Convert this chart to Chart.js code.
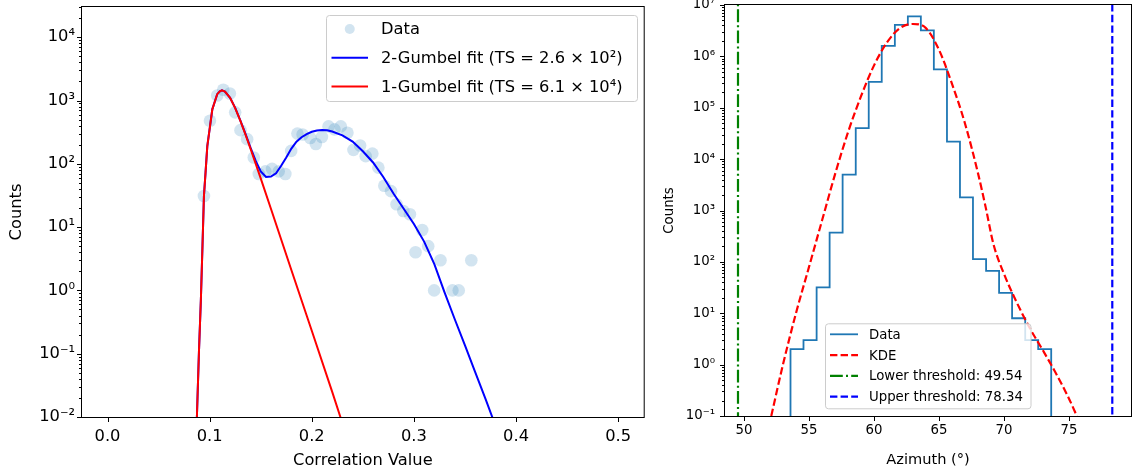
<!DOCTYPE html>
<html>
<head>
<meta charset="utf-8">
<script src="https://cdn.jsdelivr.net/npm/chart.js@4.4.1/dist/chart.umd.min.js"></script>
<style>
  html, body { margin: 0; padding: 0; background: #fff; overflow: hidden; }
  #left { position: absolute; left: 0; top: 0; }
  #right { position: absolute; left: 650px; top: 0; }
</style>
</head>
<body>
<canvas id="left" width="650" height="475"></canvas>
<canvas id="right" width="482" height="475"></canvas>
<script>
// Left panel: correlation value histogram (scatter) with Gumbel fits
const corrX = [0.0944, 0.1003, 0.1074, 0.1133, 0.1198, 0.1250, 0.1302, 0.1367, 0.1432, 0.1481,
  0.1546, 0.1611, 0.1676, 0.1741, 0.1798, 0.1859, 0.1910, 0.1985, 0.2040, 0.2099,
  0.2164, 0.2222, 0.2284, 0.2349, 0.2408, 0.2473, 0.2528, 0.2593, 0.2652, 0.2710,
  0.2776, 0.2830, 0.2896, 0.2961, 0.3016, 0.3081, 0.3140, 0.3198, 0.3260, 0.3377,
  0.3439, 0.3562];
const corrCounts = [31, 480, 1200, 1480, 1290, 650, 340, 245, 126, 69,
  76, 83, 76, 69, 160, 300, 290, 255, 205, 265,
  390, 350, 390, 310, 166, 195, 132, 145, 87, 45,
  37, 23, 18, 16, 4, 9, 5, 1, 3, 1,
  1, 3];

const twoGumbelX = [0.0875, 0.0895, 0.0914, 0.093, 0.0944, 0.096, 0.0977, 0.1, 0.1026, 0.105,
  0.1074, 0.11, 0.112, 0.115, 0.12, 0.125, 0.13, 0.135, 0.14, 0.145,
  0.15, 0.1552, 0.16, 0.165, 0.17, 0.175, 0.18, 0.185, 0.19, 0.195,
  0.2, 0.205, 0.21, 0.215, 0.22, 0.23, 0.24, 0.25, 0.26, 0.27,
  0.28, 0.29, 0.3, 0.31, 0.32, 0.33, 0.34, 0.35, 0.36, 0.37,
  0.3767, 0.38];
const twoGumbelY = [0.01, 0.105, 0.71, 5.2, 31, 74, 190, 355, 725, 955,
  1260, 1400, 1450, 1380, 1100, 765, 485, 300, 180, 112,
  76, 62, 63, 71, 93, 126, 174, 224, 263, 295,
  320, 335, 343, 339, 324, 282, 224, 158, 105, 62,
  34, 19.5, 11.2, 5.9, 2.6, 0.93, 0.35, 0.135, 0.051, 0.0195,
  0.01, 0.0066];

const oneGumbelX = [0.0875, 0.0895, 0.0914, 0.093, 0.0944, 0.096, 0.0977, 0.1, 0.1026, 0.105,
  0.1074, 0.11, 0.112, 0.115, 0.12, 0.125, 0.13, 0.135, 0.14, 0.15,
  0.16, 0.18, 0.2, 0.22, 0.228, 0.232];
const oneGumbelY = [0.01, 0.105, 0.71, 5.2, 31, 74, 190, 355, 725, 955,
  1260, 1400, 1450, 1380, 1100, 760, 480, 292, 174, 59,
  19.5, 2.1, 0.23, 0.025, 0.01, 0.0065];

const corrTicks = [0, 0.1, 0.2, 0.3, 0.4, 0.5];
const corrDecades = [-2, -1, 0, 1, 2, 3, 4];

// Right panel: azimuth histogram with KDE and thresholds
const binEdges = [53.58, 54.58, 55.59, 56.59, 57.59, 58.60, 59.60, 60.60, 61.61, 62.61, 63.61,
  64.61, 65.62, 66.62, 67.62, 68.63, 69.63, 70.63, 71.64, 72.64, 73.64];
const binCounts = [2, 3, 32, 370, 5000, 40000, 320000, 1600000, 4100000, 6000000,
  3200000, 560000, 22000, 1800, 113, 67, 25, 8, 3, 2];

const kdeX = [52.1, 53, 54, 55, 56, 57, 58, 59, 60, 61, 62, 63, 64, 65, 66, 67, 68, 68.6, 69.2, 70,
  71, 72, 73, 74, 75, 75.7];
const kdeY = [0.1, 1.0, 10, 79, 630, 5000, 33000, 166000, 660000, 1860000, 3550000, 4270000,
  3550000, 1350000, 295000, 50000, 5400, 1150, 220, 59, 16, 5.1, 1.9, 0.68, 0.22, 0.089];

const lowerThreshold = 49.54;
const upperThreshold = 78.34;
const azTicks = [50, 55, 60, 65, 70, 75];
const azDecades = [-1, 0, 1, 2, 3, 4, 5, 6, 7];

Chart.defaults.font.family = 'DejaVu Sans';
Chart.defaults.color = '#000';

const SUP = { '-': '⁻', '0': '⁰', '1': '¹', '2': '²', '3': '³', '4': '⁴', '5': '⁵', '6': '⁶', '7': '⁷', '8': '⁸', '9': '⁹' };
const pow10 = v => '10' + String(Math.round(Math.log10(v))).split('').map(c => SUP[c]).join('');
const pts = (xs, ys) => xs.map((x, i) => ({ x, y: ys[i] }));

// minor ticks 2..9 x 10^d inside the decades range, majors at 10^d
function logTickList(decades, max) {
  const out = [];
  decades.forEach(d => {
    out.push([Math.pow(10, d), true]);
    for (let m = 2; m <= 9; m++) {
      const v = m * Math.pow(10, d);
      if (v <= max * 1.001) out.push([v, false]);
    }
  });
  return out;
}

function drawLegend(chart, lg) {
  const { ctx, chartArea: a } = chart;
  const bx = a.left + lg.dx, by = lg.fromBottom ? a.bottom - lg.dy - lg.h : a.top + lg.dy;
  ctx.save();
  ctx.beginPath();
  ctx.roundRect(bx + 0.5, by + 0.5, lg.w, lg.h, 3);
  ctx.fillStyle = 'rgba(255,255,255,0.8)';
  ctx.fill();
  ctx.strokeStyle = '#cccccc';
  ctx.lineWidth = 1;
  ctx.stroke();
  ctx.font = lg.size + 'px "DejaVu Sans"';
  ctx.textBaseline = 'middle';
  lg.items.forEach((idx, i) => {
    const ds = chart.data.datasets[idx];
    const cy = by + lg.first + i * lg.step;
    if (ds.showLine === false) {
      ctx.beginPath();
      ctx.arc(bx + lg.hx0 + (lg.hx1 - lg.hx0) / 2, cy, lg.marker, 0, Math.PI * 2);
      ctx.fillStyle = ds.pointBackgroundColor;
      ctx.fill();
    } else {
      ctx.beginPath();
      ctx.setLineDash(ds.borderDash || []);
      ctx.strokeStyle = ds.borderColor;
      ctx.lineWidth = ds.borderWidth;
      ctx.moveTo(bx + lg.hx0, cy);
      ctx.lineTo(bx + lg.hx1, cy);
      ctx.stroke();
      ctx.setLineDash([]);
    }
    ctx.fillStyle = '#000';
    ctx.fillText(ds.label, bx + lg.tx, cy + 1);
  });
  ctx.restore();
}

function framePlugin(xTicks, decades, yMax, lg) {
  return {
    id: 'frame',
    afterDatasetsDraw(chart) {
      const { ctx, chartArea: a, scales: { x, y } } = chart;
      ctx.save();
      ctx.strokeStyle = '#000';
      ctx.lineWidth = 1;
      ctx.beginPath();
      xTicks.forEach(v => {
        const px = Math.round(x.getPixelForValue(v)) + 0.5;
        ctx.moveTo(px, a.bottom);
        ctx.lineTo(px, a.bottom + 5);
      });
      logTickList(decades, yMax).forEach(([v, major]) => {
        const py = Math.round(y.getPixelForValue(v)) + 0.5;
        ctx.moveTo(a.left, py);
        ctx.lineTo(a.left - (major ? 5 : 3), py);
      });
      ctx.stroke();
      ctx.strokeRect(a.left - 0.5, a.top - 0.5, a.width + 1, a.height + 1);
      ctx.restore();
      drawLegend(chart, lg);
    }
  };
}

function xAxis(min, max, ticks, fmt, font, pad, height, title, titleFont, titlePad) {
  return {
    type: 'linear', min, max,
    grid: { display: false, drawTicks: false },
    border: { display: false },
    afterBuildTicks: s => { s.ticks = ticks.map(v => ({ value: v })); },
    afterFit: s => { s.height = height; s.paddingLeft = 0; s.paddingRight = 0; },
    ticks: { autoSkip: false, maxRotation: 0, padding: pad, font: { size: font }, callback: fmt },
    title: { display: true, text: title, font: { size: titleFont }, padding: { top: 0, bottom: titlePad } }
  };
}

function yAxis(min, max, decades, font, pad, width, title, titleFont, titlePad) {
  return {
    type: 'logarithmic', min, max,
    grid: { display: false, drawTicks: false },
    border: { display: false },
    afterBuildTicks: s => { s.ticks = decades.map(d => ({ value: Math.pow(10, d) })); },
    afterFit: s => { s.width = width; s.paddingTop = 0; s.paddingBottom = 0; },
    ticks: { autoSkip: false, padding: pad, font: { size: font }, callback: v => pow10(v) },
    title: { display: true, text: title, font: { size: titleFont }, padding: { top: titlePad, bottom: 0 } }
  };
}

const common = {
  responsive: false, animation: false, devicePixelRatio: 1,
  plugins: { legend: { display: false }, tooltip: { enabled: false } },
  events: []
};

new Chart(document.getElementById('left'), {
  type: 'scatter',
  data: {
    datasets: [
      {
        label: 'Data', data: pts(corrX, corrCounts), showLine: false,
        pointRadius: 6.3, pointBorderWidth: 0,
        pointBackgroundColor: 'rgba(31,119,180,0.2)', order: 3
      },
      {
        label: '2-Gumbel fit (TS = 2.6 × 10²)', data: pts(twoGumbelX, twoGumbelY), showLine: true,
        borderColor: '#0000ff', borderWidth: 2, pointRadius: 0, clip: 0, order: 2
      },
      {
        label: '1-Gumbel fit (TS = 6.1 × 10⁴)', data: pts(oneGumbelX, oneGumbelY), showLine: true,
        borderColor: '#ff0000', borderWidth: 2, pointRadius: 0, clip: 0, order: 1
      }
    ]
  },
  options: {
    ...common,
    layout: { padding: { left: 0, right: 4, top: 7, bottom: 0 } },
    scales: {
      x: xAxis(-0.025, 0.525, corrTicks, v => v.toFixed(1), 16.3, 10, 58, 'Correlation Value', 16.3, 4),
      y: yAxis(0.01, 30000, corrDecades, 16.3, 7, 82, 'Counts', 16.3, 7.3)
    }
  },
  plugins: [framePlugin(corrTicks, corrDecades, 30000, {
    dx: 244, dy: 8, w: 311, h: 86, first: 14, step: 28.7,
    hx0: 5.5, hx1: 42, tx: 55, size: 16.3, marker: 5, items: [0, 1, 2]
  })]
});

// histogram as a step outline through the bin edges
const histPts = [{ x: binEdges[0], y: 0.001 }]
  .concat(binCounts.map((c, i) => ({ x: binEdges[i], y: c })))
  .concat([{ x: binEdges[binEdges.length - 1], y: 0.001 }]);

new Chart(document.getElementById('right'), {
  type: 'scatter',
  data: {
    datasets: [
      {
        label: 'Data', data: histPts, showLine: true, stepped: 'before',
        borderColor: '#1f77b4', borderWidth: 1.8, pointRadius: 0, clip: 0, order: 4
      },
      {
        label: 'KDE', data: pts(kdeX, kdeY), showLine: true, cubicInterpolationMode: 'monotone',
        borderColor: '#ff0000', borderWidth: 2.2, borderDash: [7.4, 3.2], pointRadius: 0, clip: 0, order: 3
      },
      {
        label: 'Lower threshold: ' + lowerThreshold.toFixed(2),
        data: [{ x: lowerThreshold, y: 0.01 }, { x: lowerThreshold, y: 1e8 }], showLine: true,
        borderColor: '#008000', borderWidth: 2.2, borderDash: [12.8, 3.2, 2, 3.2], pointRadius: 0, clip: 0, order: 2
      },
      {
        label: 'Upper threshold: ' + upperThreshold.toFixed(2),
        data: [{ x: upperThreshold, y: 0.01 }, { x: upperThreshold, y: 1e8 }], showLine: true,
        borderColor: '#0000ff', borderWidth: 2.2, borderDash: [7.4, 3.2], pointRadius: 0, clip: 0, order: 1
      }
    ]
  },
  options: {
    ...common,
    layout: { padding: { left: 0, right: 1, top: 5, bottom: 0 } },
    scales: {
      x: xAxis(48.54, 79.78, azTicks, v => String(v), 13.3, 6.6, 59, 'Azimuth (°)', 14.6, 6.4),
      y: yAxis(0.1, 1e7, azDecades, 13.3, 10, 75, 'Counts', 13.3, 11.5)
    }
  },
  plugins: [framePlugin(azTicks, azDecades, 1e7, {
    dx: 100, dy: 7.7, fromBottom: true, w: 205.5, h: 85, first: 11, step: 20.8,
    hx0: 5, hx1: 33, tx: 44, size: 13.3, marker: 4, items: [0, 1, 2, 3]
  })]
});
</script>
</body>
</html>
